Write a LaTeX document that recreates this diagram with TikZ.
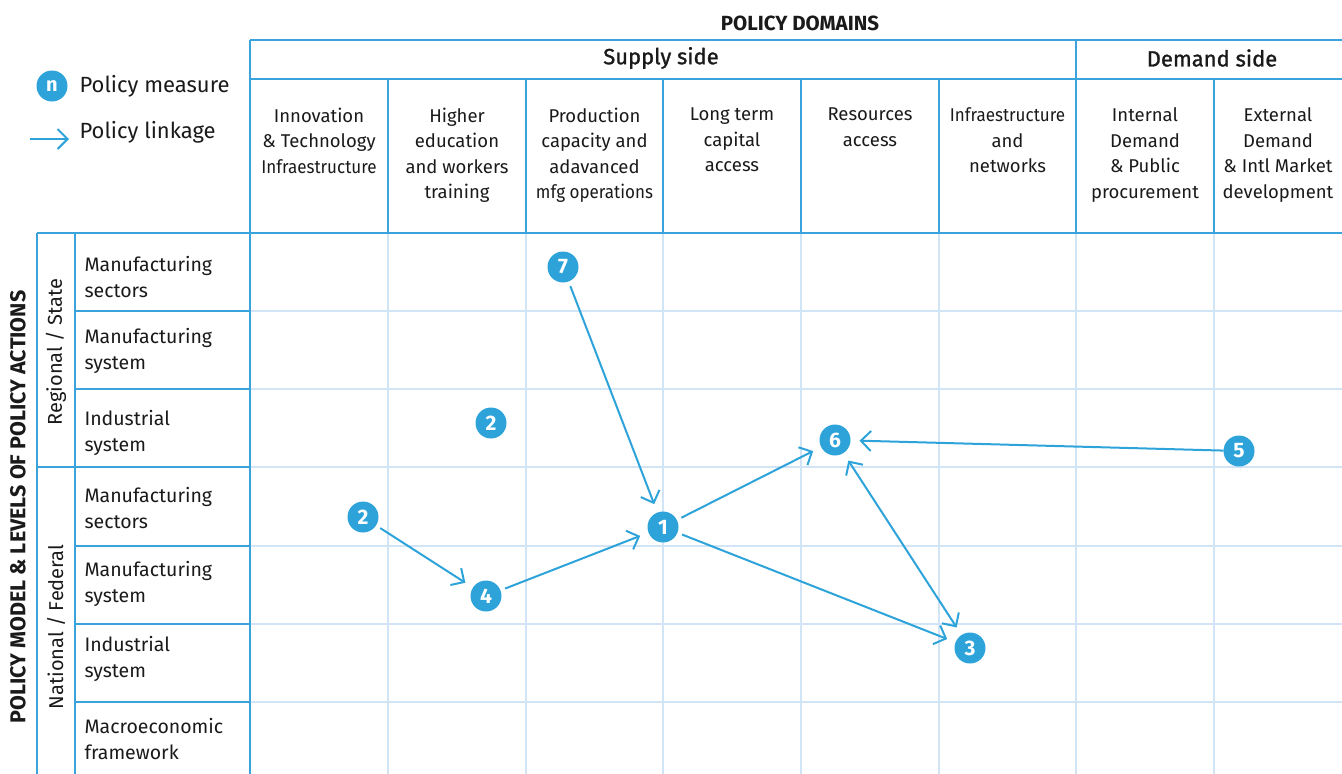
\documentclass[tikz,border=0pt]{standalone}
\usepackage{fontspec}
\setmainfont{Fira Sans}
\newfontfamily\medfont[FakeBold=1.2]{Fira Sans}
\usetikzlibrary{arrows.meta}
\definecolor{mblue}{HTML}{3AA3DC}
\definecolor{lblue}{HTML}{D2E5F6}
\definecolor{cblue}{HTML}{2DA3DA}
\definecolor{txt}{HTML}{1A1A1A}
\begin{document}
\begin{tikzpicture}[x=1pt,y=-1pt,
  frame/.style={draw=mblue,line width=1.6pt},
  thickframe/.style={draw=mblue,line width=2.6pt},
  gridline/.style={draw=lblue,line width=1.6pt},
  pm/.style={circle,fill=cblue,text=white,font=\fontsize{21}{21}\selectfont\bfseries,minimum size=31pt,inner sep=0pt,outer sep=0pt},
  link/.style={draw=cblue,line width=2pt,shorten <=5pt,shorten >=9pt,-{Straight Barb[length=10pt,width=20pt,line width=2pt]}},
  colhead/.style={anchor=north,align=center,font=\fontsize{18.5}{25.5}\selectfont,text=txt},
  rowlab/.style={anchor=west,align=left,font=\fontsize{19.5}{26}\selectfont,text=txt},
  grouphead/.style={font=\fontsize{22}{22}\selectfont\medfont,text=txt},
  legendtxt/.style={anchor=west,font=\fontsize{22}{22}\selectfont,text=txt},
  sidelab/.style={rotate=90,font=\fontsize{20}{20}\selectfont,text=txt}
]
\useasboundingbox (0,0) rectangle (1342,774);
% light grid in the matrix
\foreach \x in {388,526,663,801,939,1076,1214} \draw[gridline] (\x,234) -- (\x,774);
\foreach \y in {311,389,467,546,624,702} \draw[gridline] (251,\y) -- (1342,\y);
% header frame
\draw[frame] (250,40) -- (1342,40);
\draw[frame] (250,79) -- (1342,79);
\draw[frame] (250,40) -- (250,774);
\foreach \x in {388,526,663,801,939,1214} \draw[frame] (\x,79) -- (\x,233);
\draw[thickframe] (1076,40) -- (1076,233);
\draw[frame] (37,233) -- (1342,233);
% left frame
\draw[frame] (37,233) -- (37,774);
\draw[frame] (75,233) -- (75,774);
\foreach \y in {311,389,546,624,702} \draw[frame] (75,\y) -- (250,\y);
\draw[thickframe] (37,467) -- (250,467);
% titles
\node[font=\fontsize{20.5}{20.5}\selectfont\bfseries,text=txt] (pd) at (800,23) {POLICY DOMAINS};
\node[grouphead] (ss) at (661,58) {Supply side};
\node[grouphead] (ds) at (1212,58) {Demand side};
% column headers
\node[colhead] (h1) at (319,104.5) {Innovation\\\& Technology\\\scalebox{0.92}[1]{Infraestructure}};
\node[colhead] (h2) at (457,104.5) {Higher\\education\\and workers\\training};
\node[colhead] (h3) at (594.5,104.5) {Production\\capacity and\\adavanced\\\scalebox{0.92}[1]{mfg operations}};
\node[colhead] (h4) at (732,104.5) {Long term\\capital\\access};
\node[colhead] (h5) at (870,104.5) {Resources\\access};
\node[colhead] (h6) at (1007.5,104.5) {\scalebox{0.92}[1]{Infraestructure}\\and\\networks};
\node[colhead] (h7) at (1145,104.5) {Internal\\Demand\\\& Public\\procurement};
\node[colhead] (h8) at (1278,104.5) {External\\Demand\\\& Intl Market\\development};
% row labels
\node[rowlab] (r1) at (81,277) {Manufacturing\\sectors};
\node[rowlab] (r2) at (81,351) {Manufacturing\\system};
\node[rowlab] (r3) at (81,433) {Industrial\\system};
\node[rowlab] (r4) at (81,508) {Manufacturing\\sectors};
\node[rowlab] (r5) at (81,584) {Manufacturing\\system};
\node[rowlab] (r6) at (81,659) {Industrial\\system};
\node[rowlab] (r7) at (81,739) {Macroeconomic\\framework};
% side labels
\node[sidelab] (reg) at (56,352) {Regional / State};
\node[sidelab] (nat) at (56,627) {National / Federal};
\node[rotate=90,font=\fontsize{21.5}{21.5}\selectfont\bfseries,text=txt] (pm) at (18,507) {POLICY MODEL \& LEVELS OF POLICY ACTIONS};
% legend
\node[pm,font=\fontsize{20}{20}\selectfont\bfseries] (ln) at (52,86) {n};
\node[legendtxt] (lmt) at (76,86) {Policy measure};
\node[legendtxt] (llt) at (76,132) {Policy linkage};
\coordinate (la) at (30,139);
\coordinate (lb) at (69,139);
\draw[link,shorten <=0pt,shorten >=0pt] (la) -- (lb);
% policy measures
\node[pm] (c7) at (563,267) {7};
\node[pm] (c2a) at (491,423) {2};
\node[pm] (c6) at (835,440) {6};
\node[pm] (c5) at (1239,451) {5};
\node[pm] (c2b) at (363,517) {2};
\node[pm] (c1) at (663,527) {1};
\node[pm] (c4) at (486,596) {4};
\node[pm] (c3) at (970,648) {3};
% linkages
\draw[link] (c7) -- (c1);
\draw[link] (c2b) -- (c4);
\draw[link] (c4) -- (c1);
\draw[link] (c1) -- (c6);
\draw[link] (c1) -- (c3);
\draw[link,shorten <=0pt] (c5) -- (c6);
\draw[link,shorten <=9pt,{Straight Barb[length=10pt,width=20pt,line width=2pt]}-{Straight Barb[length=10pt,width=20pt,line width=2pt]}] (c6) -- (c3);
\end{tikzpicture}
\end{document}
